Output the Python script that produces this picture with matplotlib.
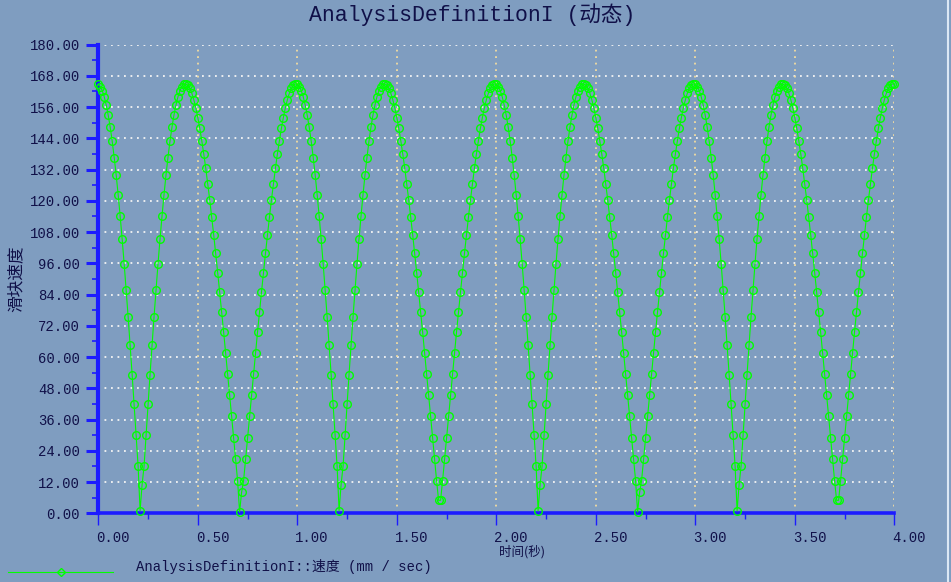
import numpy as np
import matplotlib
matplotlib.use("Agg")
import matplotlib.pyplot as plt
from matplotlib.lines import Line2D
from matplotlib.ticker import MultipleLocator, FixedLocator
import matplotlib.transforms as mtransforms

# ---------------- data ----------------
title_text = "AnalysisDefinitionI (动态)"
legend_text = "AnalysisDefinitionI::速度 (mm / sec)"
x_label = "时间(秒)"
y_label = "滑块速度"

time_step = 0.01
speed_0_1 = [164.8, 163.9, 162.3, 159.9, 156.7, 152.8, 148.2, 142.8, 136.6, 129.8,
             122.2, 114.0, 105.2, 95.8, 85.8, 75.4, 64.5, 53.3, 41.8, 30.0,
             18.1, 1.0, 11.0, 18.1, 30.0, 41.8, 53.3, 64.5, 75.4, 85.8,
             95.8, 105.2, 114.0, 122.2, 129.8, 136.6, 142.8, 148.2, 152.8, 156.7,
             159.9, 162.3, 163.9, 164.8, 164.9, 164.4, 163.2, 161.3, 158.8, 155.7,
             152.0, 147.8, 143.1, 138.0, 132.5, 126.5, 120.3, 113.7, 106.9, 99.8,
             92.4, 84.9, 77.3, 69.5, 61.5, 53.5, 45.4, 37.2, 29.0, 20.7,
             12.5, 0.5, 8.0, 12.5, 20.7, 29.0, 37.2, 45.4, 53.5, 61.5,
             69.5, 77.3, 84.9, 92.4, 99.8, 106.9, 113.7, 120.3, 126.5, 132.5,
             138.0, 143.1, 147.8, 152.0, 155.7, 158.8, 161.3, 163.2, 164.4, 164.9]
speed_1_2 = [164.8, 163.9, 162.3, 159.9, 156.7, 152.8, 148.2, 142.8, 136.6, 129.8,
             122.2, 114.0, 105.2, 95.8, 85.8, 75.4, 64.5, 53.3, 41.8, 30.0,
             18.1, 1.0, 11.0, 18.1, 30.0, 41.8, 53.3, 64.5, 75.4, 85.8,
             95.8, 105.2, 114.0, 122.2, 129.8, 136.6, 142.8, 148.2, 152.8, 156.7,
             159.9, 162.3, 163.9, 164.8, 164.9, 164.4, 163.2, 161.3, 158.8, 155.7,
             152.0, 147.8, 143.1, 138.0, 132.5, 126.5, 120.3, 113.7, 106.9, 99.8,
             92.4, 84.9, 77.3, 69.5, 61.5, 53.5, 45.4, 37.2, 29.0, 20.7,
             12.5, 5.0, 5.0, 12.5, 20.7, 29.0, 37.2, 45.4, 53.5, 61.5,
             69.5, 77.3, 84.9, 92.4, 99.8, 106.9, 113.7, 120.3, 126.5, 132.5,
             138.0, 143.1, 147.8, 152.0, 155.7, 158.8, 161.3, 163.2, 164.4, 164.9]
speed_2_3 = [164.8, 163.9, 162.3, 159.9, 156.7, 152.8, 148.2, 142.8, 136.6, 129.8,
             122.2, 114.0, 105.2, 95.8, 85.8, 75.4, 64.5, 53.3, 41.8, 30.0,
             18.1, 1.0, 11.0, 18.1, 30.0, 41.8, 53.3, 64.5, 75.4, 85.8,
             95.8, 105.2, 114.0, 122.2, 129.8, 136.6, 142.8, 148.2, 152.8, 156.7,
             159.9, 162.3, 163.9, 164.8, 164.9, 164.4, 163.2, 161.3, 158.8, 155.7,
             152.0, 147.8, 143.1, 138.0, 132.5, 126.5, 120.3, 113.7, 106.9, 99.8,
             92.4, 84.9, 77.3, 69.5, 61.5, 53.5, 45.4, 37.2, 29.0, 20.7,
             12.5, 0.5, 8.0, 12.5, 20.7, 29.0, 37.2, 45.4, 53.5, 61.5,
             69.5, 77.3, 84.9, 92.4, 99.8, 106.9, 113.7, 120.3, 126.5, 132.5,
             138.0, 143.1, 147.8, 152.0, 155.7, 158.8, 161.3, 163.2, 164.4, 164.9]
speed_3_4 = [164.8, 163.9, 162.3, 159.9, 156.7, 152.8, 148.2, 142.8, 136.6, 129.8,
             122.2, 114.0, 105.2, 95.8, 85.8, 75.4, 64.5, 53.3, 41.8, 30.0,
             18.1, 1.0, 11.0, 18.1, 30.0, 41.8, 53.3, 64.5, 75.4, 85.8,
             95.8, 105.2, 114.0, 122.2, 129.8, 136.6, 142.8, 148.2, 152.8, 156.7,
             159.9, 162.3, 163.9, 164.8, 164.9, 164.4, 163.2, 161.3, 158.8, 155.7,
             152.0, 147.8, 143.1, 138.0, 132.5, 126.5, 120.3, 113.7, 106.9, 99.8,
             92.4, 84.9, 77.3, 69.5, 61.5, 53.5, 45.4, 37.2, 29.0, 20.7,
             12.5, 5.0, 5.0, 12.5, 20.7, 29.0, 37.2, 45.4, 53.5, 61.5,
             69.5, 77.3, 84.9, 92.4, 99.8, 106.9, 113.7, 120.3, 126.5, 132.5,
             138.0, 143.1, 147.8, 152.0, 155.7, 158.8, 161.3, 163.2, 164.4, 164.9]
speed_end = [164.8]

x_ticks = [0.0, 0.5, 1.0, 1.5, 2.0, 2.5, 3.0, 3.5, 4.0]
x_tick_labels = ["0.00", "0.50", "1.00", "1.50", "2.00", "2.50", "3.00", "3.50", "4.00"]
y_ticks = [0, 12, 24, 36, 48, 60, 72, 84, 96, 108, 120, 132, 144, 156, 168, 180]
y_tick_labels = ["%.2f" % v for v in y_ticks]

speed = speed_0_1 + speed_1_2 + speed_2_3 + speed_3_4 + speed_end
time_s = np.arange(len(speed)) * time_step

# ---------------- style ----------------
BG = "#7f9dc0"
BLUE = "#1c1cff"
GREEN = "#00ff00"
TXT = "#101048"
MONO = ["Liberation Mono", "DejaVu Sans Mono", "Noto Sans CJK SC"]
CJK = ["Noto Sans CJK SC", "DejaVu Sans"]

W, H, DPI = 951, 582, 100
fig = plt.figure(figsize=(W / DPI, H / DPI), dpi=DPI, facecolor=BG)
ax = fig.add_axes([98.3 / W, 1 - 513.3 / H, (894.3 - 98.3) / W, (513.3 - 44.6) / H])
ax.set_facecolor(BG)

ax.set_xlim(0, 4)
ax.set_ylim(0, 180)

# grid
dot = (0, (1, 2.6))
for yv in y_ticks[1:]:
    ax.axhline(yv, color="#f4f4f4", lw=1.3, ls=dot, zorder=1)
for xv in x_ticks[1:]:
    ax.axvline(xv, color="#f2dca0", lw=1.3, ls=dot, zorder=1)

# data
ax.plot(time_s, speed, color=GREEN, lw=0.8, marker="o", ms=5.5, mfc="none",
        mec=GREEN, mew=1.0, zorder=5, clip_on=False)

# spines
for s in ["top", "right"]:
    ax.spines[s].set_visible(False)
ax.spines["left"].set_color(BLUE)
ax.spines["left"].set_linewidth(3.0)
ax.spines["bottom"].set_color(BLUE)
ax.spines["bottom"].set_linewidth(2.6)
ax.spines["left"].set_zorder(4)
ax.spines["bottom"].set_zorder(4)

# ticks
ax.yaxis.set_major_locator(FixedLocator(y_ticks))
ax.set_yticklabels(y_tick_labels, family=MONO, fontsize=10, color=TXT)
ax.yaxis.set_minor_locator(MultipleLocator(6))
ax.tick_params(axis="y", which="major", length=8.6, width=2.2, color=BLUE, pad=4.5)
ax.tick_params(axis="y", which="minor", length=4.3, width=1.2, color=BLUE)

ax.xaxis.set_major_locator(FixedLocator(x_ticks))
ax.set_xticklabels(x_tick_labels, family=MONO, fontsize=10, color=TXT)
ax.xaxis.set_minor_locator(MultipleLocator(0.25))
ax.tick_params(axis="x", which="major", length=8.6, width=1.0, color=BLUE, pad=4.5)
ax.tick_params(axis="x", which="minor", length=4.3, width=1.0, color=BLUE)
offset = mtransforms.ScaledTranslation(-2 / DPI, 0, fig.dpi_scale_trans)
for lab in ax.get_xticklabels():
    lab.set_ha("left")
    lab.set_transform(lab.get_transform() + offset)

# texts
fig.text(472.5 / W, 1 - 15 / H, title_text, family=MONO, fontsize=15.5,
         color=TXT, ha="center", va="center")
fig.text(521.7 / W, 1 - 551.7 / H, x_label, family=CJK, fontsize=9,
         color=TXT, ha="center", va="center")
fig.text(16 / W, 1 - 279 / H, y_label, family=CJK, fontsize=12,
         color=TXT, ha="center", va="center", rotation=90)

# legend (bottom-left)
ly = 1 - 571.7 / H
fig.add_artist(Line2D([8 / W, 113 / W], [ly, ly], color=GREEN, lw=0.8))
fig.add_artist(Line2D([61 / W], [ly], color=GREEN, marker="D", ms=4.5,
                      mfc="none", mec=GREEN, mew=1.0))
fig.text(136 / W, 1 - 567 / H, legend_text, family=MONO, fontsize=10,
         color=TXT, ha="left", va="center")

# right border line
fig.add_artist(Line2D([947.7 / W, 947.7 / W], [0, 1], color="#dce8f5", lw=1.5))

fig.savefig("out.png", dpi=DPI, facecolor=BG)
